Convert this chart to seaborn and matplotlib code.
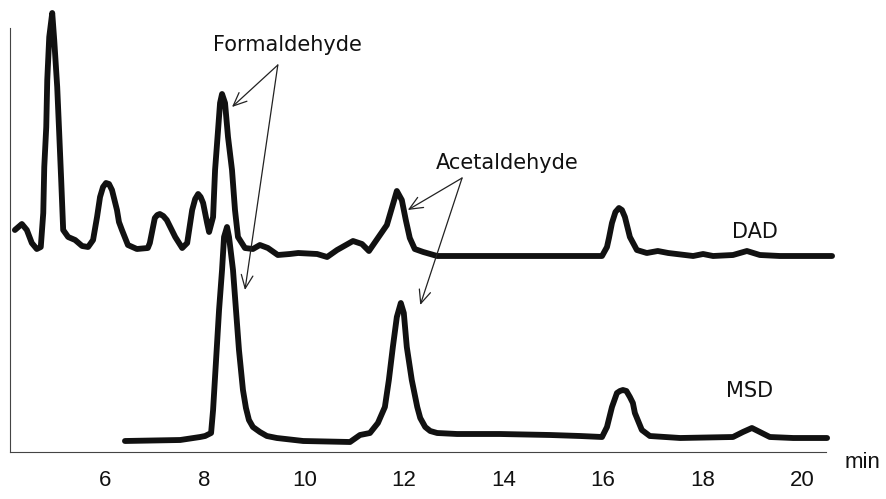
import matplotlib
matplotlib.use("Agg")
import matplotlib.pyplot as plt
import seaborn as sns
import pandas as pd

# Retention time (min) and detector response (arbitrary units, offset traces)
dad_time = [4.19, 4.33, 4.43, 4.53, 4.63, 4.71, 4.76, 4.78, 4.82, 4.84,
            4.88, 4.94, 4.98, 5.04, 5.08, 5.12, 5.16, 5.26, 5.40, 5.54,
            5.66, 5.76, 5.84, 5.90, 5.96, 6.02, 6.08, 6.14, 6.18, 6.24,
            6.28, 6.34, 6.46, 6.64, 6.86, 6.90, 7.00, 7.05, 7.10, 7.17,
            7.24, 7.41, 7.55, 7.65, 7.75, 7.81, 7.87, 7.92, 7.97, 8.05,
            8.09, 8.17, 8.21, 8.27, 8.31, 8.35, 8.41, 8.47, 8.55, 8.61,
            8.67, 8.81, 8.97, 9.11, 9.27, 9.47, 9.71, 9.88, 10.26, 10.46,
            10.66, 10.98, 11.16, 11.30, 11.48, 11.66, 11.76, 11.86, 11.96, 12.04,
            12.12, 12.22, 12.39, 12.67, 12.93, 13.93, 14.94, 15.54, 15.98, 16.08,
            16.12, 16.18, 16.25, 16.32, 16.38, 16.44, 16.54, 16.68, 16.88, 17.10,
            17.31, 17.81, 18.01, 18.21, 18.61, 18.89, 19.15, 19.55, 20.60]
dad_signal = [222, 228, 222, 209, 203, 205, 239, 285, 325, 372,
              415, 439, 412, 365, 319, 272, 222, 215, 212, 206,
              205, 212, 235, 255, 265, 269, 268, 262, 254, 242,
              230, 222, 207, 203, 204, 209, 234, 237, 238, 236,
              232, 215, 204, 209, 242, 253, 258, 255, 249, 229,
              220, 235, 282, 322, 349, 358, 349, 315, 282, 242,
              215, 204, 203, 207, 204, 197, 198, 199, 198, 195,
              202, 211, 208, 201, 214, 227, 244, 261, 252, 232,
              214, 203, 200, 196, 196, 196, 196, 196, 196, 205,
              214, 229, 240, 244, 242, 235, 215, 202, 199, 201,
              199, 196, 198, 196, 197, 201, 197, 196, 196]

msd_time = [6.40, 7.51, 7.91, 8.01, 8.13, 8.17, 8.23, 8.29, 8.35, 8.39,
            8.45, 8.49, 8.57, 8.63, 8.69, 8.77, 8.83, 8.89, 8.97, 9.11,
            9.25, 9.45, 9.98, 10.92, 11.12, 11.32, 11.48, 11.62, 11.70, 11.78,
            11.86, 11.94, 12.00, 12.06, 12.16, 12.27, 12.33, 12.43, 12.53, 12.67,
            13.07, 13.93, 14.94, 15.54, 15.98, 16.08, 16.18, 16.23, 16.28, 16.34,
            16.40, 16.47, 16.54, 16.60, 16.64, 16.78, 16.94, 17.55, 18.61, 18.81,
            18.99, 19.15, 19.35, 19.82, 20.50]
msd_signal = [11, 12, 15, 16, 19, 42, 92, 142, 182, 215,
              225, 215, 182, 142, 102, 62, 44, 32, 25, 20,
              16, 14, 11, 10, 17, 19, 29, 45, 72, 105,
              135, 149, 139, 105, 72, 45, 34, 25, 21, 19,
              18, 18, 17, 16, 15, 25, 45, 52, 59, 61,
              62, 61, 55, 49, 39, 22, 16, 14, 15, 20,
              24, 20, 15, 14, 14]

tick_values = [6, 8, 10, 12, 14, 16, 18, 20]
tick_labels = ["6", "8", "10", "12", "14", "16", "18", "20"]

traces = pd.concat([
    pd.DataFrame({"time": dad_time, "signal": dad_signal, "detector": "DAD"}),
    pd.DataFrame({"time": msd_time, "signal": msd_signal, "detector": "MSD"}),
], ignore_index=True)

sns.set_theme(style="white")
plt.rcParams["font.family"] = ["DejaVu Sans"]

W, H = 886, 499
fig = plt.figure(figsize=(W / 100, H / 100), dpi=100)
ax = fig.add_axes([10 / W, 47 / H, 816 / W, 452 / H])

ink = "#111111"
for name, grp in traces.groupby("detector"):
    sns.lineplot(data=grp, x="time", y="signal", estimator=None, sort=False,
                 color=ink, linewidth=4.2, ax=ax, legend=False)
for line in ax.get_lines():
    line.set_solid_joinstyle("round")
    line.set_solid_capstyle("round")
    line.set_clip_on(False)

ax.set_xlim(4.092, 20.478)
ax.set_ylim(0, 452)
ax.set_xlabel("")
ax.set_ylabel("")
ax.set_yticks([])

for side in ("top", "right"):
    ax.spines[side].set_visible(False)
for side in ("left", "bottom"):
    ax.spines[side].set_color("#444444")
    ax.spines[side].set_linewidth(0.8)
ax.spines["left"].set_bounds(0, 424)

ax.set_xticks(tick_values)
ax.set_xticklabels(tick_labels, fontfamily="Liberation Sans", fontsize=16)
ax.tick_params(axis="x", direction="in", length=7, width=0.7, color="#444444",
               pad=13, labelcolor=ink)
ax.text(21.22, -11, "min", ha="center", va="center", fontsize=16,
        fontfamily="Liberation Sans", color=ink, clip_on=False)

# Detector labels
ax.text(19.05, 220, "DAD", ha="center", va="center", fontsize=15, color=ink)
ax.text(18.95, 61, "MSD", ha="center", va="center", fontsize=15, color=ink)

# Compound labels with arrows pointing to both detector peaks
arrow_kw = dict(arrowstyle="->,head_length=0.8,head_width=0.35", color="#222222",
                lw=0.9, shrinkA=0, shrinkB=0)
ax.text(9.66, 407, "Formaldehyde", ha="center", va="center", fontsize=15, color=ink)
for head in [(8.55, 345), (8.81, 162)]:
    ax.annotate("", xy=head, xytext=(9.47, 387), arrowprops=arrow_kw)

ax.text(14.07, 289, "Acetaldehyde", ha="center", va="center", fontsize=15, color=ink)
for head in [(12.08, 242), (12.33, 147)]:
    ax.annotate("", xy=head, xytext=(13.17, 274), arrowprops=arrow_kw)

fig.savefig("out.png", dpi=100)
